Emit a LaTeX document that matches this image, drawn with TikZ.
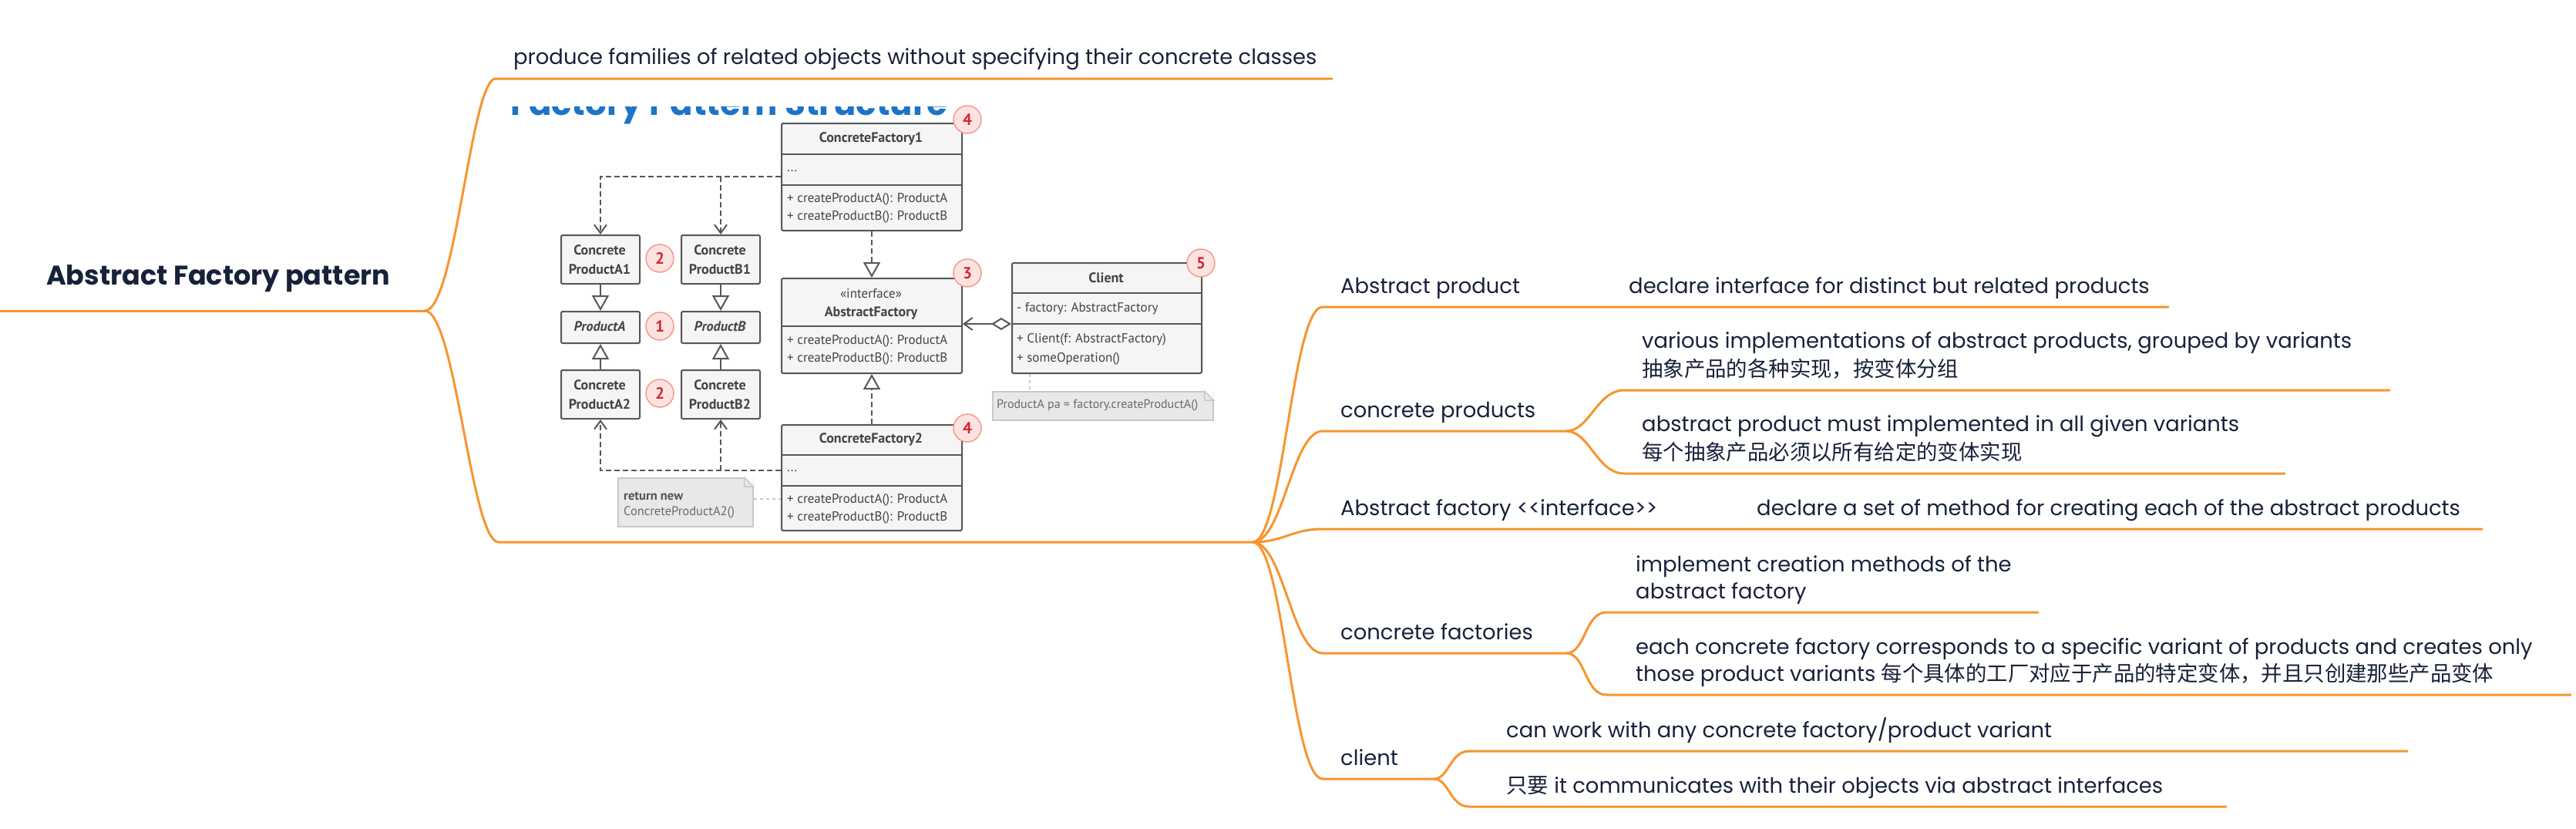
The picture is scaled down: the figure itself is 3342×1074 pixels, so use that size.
\documentclass[tikz,border=0pt]{standalone}
\usepackage{fontspec}
\setmainfont{Poppins}
\newfontfamily\cjk{Noto Sans CJK SC}
\newfontfamily\umlf{PT Sans}
\usetikzlibrary{arrows.meta}
\definecolor{org}{HTML}{F7952F}
\definecolor{ink}{HTML}{18213A}
\definecolor{ugray}{HTML}{575757}
\definecolor{utext}{HTML}{444444}
\definecolor{ufill}{HTML}{F5F5F5}
\definecolor{bfill}{HTML}{FDE3DF}
\definecolor{bdraw}{HTML}{F39A90}
\definecolor{bnum}{HTML}{D0283A}
\definecolor{tblue}{HTML}{1C74C8}
\definecolor{nfill}{HTML}{E8E8E8}
\definecolor{ndraw}{HTML}{C9C9C9}
\definecolor{ntext}{HTML}{6A6A6A}
\begin{document}
\begin{tikzpicture}[x=1pt,y=-1pt,
 branch/.style={draw=org, line width=3pt, line cap=round},
 mtext/.style={anchor=base west, inner sep=0pt, text=ink, font=\fontsize{27.4}{32}\selectfont},
 roottext/.style={anchor=base west, inner sep=0pt, text=ink, font=\bfseries\fontsize{35}{42}\selectfont},
 umlbox/.style={draw=ugray, fill=ufill, line width=2pt, rounded corners=2pt, anchor=north west, inner sep=0pt},
 uname/.style={inner sep=0pt, text=utext, font=\umlf\bfseries\fontsize{18}{21}\selectfont},
 uital/.style={inner sep=0pt, text=utext, font=\umlf\bfseries\itshape\fontsize{18}{21}\selectfont},
 ureg/.style={inner sep=0pt, text=utext, font=\umlf\fontsize{17}{20}\selectfont},
 umeth/.style={anchor=west, inner sep=0pt, text=utext, font=\umlf\fontsize{17}{20}\selectfont},
 badge/.style={circle, draw=bdraw, fill=bfill, line width=1.5pt, minimum size=36pt, inner sep=0pt, text=bnum, font=\umlf\bfseries\fontsize{21}{24}\selectfont},
 dep/.style={draw=ugray, line width=2pt, dash pattern=on 7pt off 4pt},
 gen/.style={draw=ugray, line width=2pt},
 real/.style={-{Triangle[open, length=20pt, width=22pt, fill=white]}},
 openarr/.style={-{Straight Barb[length=11pt, width=16pt]}},
 notebox/.style={draw=ndraw, fill=nfill, line width=1.5pt, anchor=north west, inner sep=0pt},
 notetext/.style={anchor=west, inner sep=0pt, text=ntext, font=\umlf\fontsize{16}{19}\selectfont},
 notelink/.style={draw=ndraw, line width=2pt, dash pattern=on 4pt off 4pt}
]
\useasboundingbox (0,0) rectangle (3342,1074);
\fill[white] (0,0) rectangle (3342,1074);

% ---------------- mind map connectors ----------------
\coordinate (R0) at (0,403);
\coordinate (J0) at (551,403);
\coordinate (T1s) at (643,102);
\coordinate (T1e) at (1728,102);
\coordinate (T2s) at (647,703);
\coordinate (J1) at (1625,703);
\coordinate (A1s) at (1716,398);
\coordinate (A1e) at (2813,398);
\coordinate (A2s) at (1716,559);
\coordinate (J2) at (2032,559);
\coordinate (A2as) at (2107,506);
\coordinate (A2ae) at (3100,506);
\coordinate (A2bs) at (2107,614);
\coordinate (A2be) at (2964,614);
\coordinate (A3s) at (1716,686);
\coordinate (A3e) at (3220,686);
\coordinate (A4s) at (1716,847);
\coordinate (J4) at (2032,847);
\coordinate (A4as) at (2084,794);
\coordinate (A4ae) at (2644,794);
\coordinate (A4bs) at (2084,901);
\coordinate (A4be) at (3335,901);
\coordinate (A5s) at (1716,1010);
\coordinate (J5) at (1860,1010);
\coordinate (A5as) at (1906,974);
\coordinate (A5ae) at (3123,974);
\coordinate (A5bs) at (1906,1046);
\coordinate (A5be) at (2888,1046);

\draw[branch] (R0) -- (J0);
\draw[branch] (J0) .. controls +(40,0) and +(-32,0) .. (T1s) -- (T1e);
\draw[branch] (J0) .. controls +(40,0) and +(-36,0) .. (T2s) -- (J1);
\draw[branch] (J1) .. controls +(40,0) and +(-40,0) .. (A1s) -- (A1e);
\draw[branch] (J1) .. controls +(40,0) and +(-40,0) .. (A2s) -- (J2);
\draw[branch] (J1) .. controls +(40,0) and +(-40,0) .. (A3s) -- (A3e);
\draw[branch] (J1) .. controls +(40,0) and +(-40,0) .. (A4s) -- (J4);
\draw[branch] (J1) .. controls +(40,0) and +(-40,0) .. (A5s) -- (J5);
\draw[branch] (J2) .. controls +(30,0) and +(-35,0) .. (A2as) -- (A2ae);
\draw[branch] (J2) .. controls +(30,0) and +(-35,0) .. (A2bs) -- (A2be);
\draw[branch] (J4) .. controls +(25,0) and +(-28,0) .. (A4as) -- (A4ae);
\draw[branch] (J4) .. controls +(25,0) and +(-28,0) .. (A4bs) -- (A4be);
\draw[branch] (J5) .. controls +(20,0) and +(-25,0) .. (A5as) -- (A5ae);
\draw[branch] (J5) .. controls +(20,0) and +(-25,0) .. (A5bs) -- (A5be);

% ---------------- mind map texts ----------------
\node[roottext] (root) at (60,369) {Abstract Factory pattern};
\node[mtext] (t1) at (666,83) {produce families of related objects without specifying their concrete classes};
\node[mtext] (a1) at (1739,380) {Abstract product};
\node[mtext] (a1a) at (2113,380) {declare interface for distinct but related products};
\node[mtext] (a2) at (1739,541) {concrete products};
\node[mtext] (a2a1) at (2130,451) {various implementations of abstract products, grouped by variants};
\node[mtext] (a2a2) at (2130,488) {\cjk 抽象产品的各种实现，按变体分组};
\node[mtext] (a2b1) at (2130,559) {abstract product must implemented in all given variants};
\node[mtext] (a2b2) at (2130,596) {\cjk 每个抽象产品必须以所有给定的变体实现};
\node[mtext] (a3) at (1739,668) {Abstract factory <\kern0pt<interface>\kern0pt>};
\node[mtext] (a3a) at (2279,668) {declare a set of method for creating each of the abstract products};
\node[mtext] (a4) at (1739,829) {concrete factories};
\node[mtext] (a4a1) at (2122,741) {implement creation methods of the};
\node[mtext] (a4a2) at (2122,776) {abstract factory};
\node[mtext] (a4b1) at (2122,848) {each concrete factory corresponds to a specific variant of products and creates only};
\node[mtext] (a4b2) at (2122,883) {those product variants {\cjk 每个具体的工厂对应于产品的特定变体，并且只创建那些产品变体}};
\node[mtext] (a5) at (1739,992) {client};
\node[mtext] (a5a) at (1954,956) {can work with any concrete factory/product variant};
\node[mtext] (a5b) at (1954,1028) {{\cjk 只要} it communicates with their objects via abstract interfaces};

% ---------------- UML picture ----------------
\begin{scope}
\clip (660,138) rectangle (1250,170);
\node[anchor=base west, inner sep=0pt, text=tblue, font=\bfseries\fontsize{43.5}{50}\selectfont] (ttl) at (662,149) {Factory Pattern Structure};
\end{scope}

% boxes
\node[umlbox, minimum width=234pt, minimum height=139pt] (cf1) at (1013,159) {};
\draw[ugray, line width=2pt] (1013,199.5) -- (1247,199.5) (1013,240) -- (1247,240);
\node[uname] (cf1n) at (1130,180) {ConcreteFactory1};
\node[umeth] (cf1d) at (1021,222) {...};
\node[umeth] (cf1m1) at (1021,258) {+ createProductA(): ProductA};
\node[umeth] (cf1m2) at (1021,281) {+ createProductB(): ProductB};

\node[umlbox, minimum width=234pt, minimum height=123pt] (af) at (1013,360) {};
\draw[ugray, line width=2pt] (1013,423) -- (1247,423);
\node[ureg] (afs) at (1130,381) {«interface»};
\node[uname] (afn) at (1130,406) {AbstractFactory};
\node[umeth] (afm1) at (1021,442) {+ createProductA(): ProductA};
\node[umeth] (afm2) at (1021,465) {+ createProductB(): ProductB};

\node[umlbox, minimum width=234pt, minimum height=137pt] (cf2) at (1013,550) {};
\draw[ugray, line width=2pt] (1013,590) -- (1247,590) (1013,630) -- (1247,630);
\node[uname] (cf2n) at (1130,570) {ConcreteFactory2};
\node[umeth] (cf2d) at (1021,611) {...};
\node[umeth] (cf2m1) at (1021,648) {+ createProductA(): ProductA};
\node[umeth] (cf2m2) at (1021,671) {+ createProductB(): ProductB};

\node[umlbox, minimum width=246pt, minimum height=143pt] (cl) at (1312,340) {};
\draw[ugray, line width=2pt] (1312,380) -- (1558,380) (1312,420) -- (1558,420);
\node[uname] (cln) at (1435,360) {Client};
\node[umeth] (cla) at (1319,400) {- factory: AbstractFactory};
\node[umeth] (clm1) at (1319,440) {+ Client(f: AbstractFactory)};
\node[umeth] (clm2) at (1319,465) {+ someOperation()};

\node[umlbox, minimum width=102pt, minimum height=63pt] (pa1) at (727,304) {};
\node[uname] (pa1t1) at (778,324) {Concrete};
\node[uname] (pa1t2) at (778,349) {ProductA1};
\node[umlbox, minimum width=102pt, minimum height=63pt] (pb1) at (883,304) {};
\node[uname] (pb1t1) at (934,324) {Concrete};
\node[uname] (pb1t2) at (934,349) {ProductB1};
\node[umlbox, minimum width=102pt, minimum height=41pt] (pa) at (727,403) {};
\node[uital] (pat) at (778,423.5) {ProductA};
\node[umlbox, minimum width=102pt, minimum height=41pt] (pb) at (883,403) {};
\node[uital] (pbt) at (934,423.5) {ProductB};
\node[umlbox, minimum width=102pt, minimum height=63pt] (pa2) at (727,479) {};
\node[uname] (pa2t1) at (778,499) {Concrete};
\node[uname] (pa2t2) at (778,524) {ProductA2};
\node[umlbox, minimum width=102pt, minimum height=63pt] (pb2) at (883,479) {};
\node[uname] (pb2t1) at (934,499) {Concrete};
\node[uname] (pb2t2) at (934,524) {ProductB2};

% notes
\node[notebox, minimum width=286pt, minimum height=37pt] (n1) at (1287,507) {};
\node[notetext] (n1t) at (1293,526) {ProductA pa = factory.createProductA()};
\fill[white] (n1.north east) -- ++(-12,0) -- ++(12,12) -- cycle;
\draw[ndraw, line width=1.5pt] ([xshift=-12pt]n1.north east) -- ++(0,12) -- ++(12,0) -- cycle;
\node[notebox, minimum width=175pt, minimum height=63pt] (n2) at (801,619) {};
\node[notetext, font=\umlf\bfseries\fontsize{16.5}{20}\selectfont, text=ntext!80!black] (n2t1) at (809,643) {return new};
\node[notetext, font=\umlf\fontsize{16.5}{20}\selectfont] (n2t2) at (809,664) {ConcreteProductA2()};
\fill[white] (n2.north east) -- ++(-12,0) -- ++(12,12) -- cycle;
\draw[ndraw, line width=1.5pt] ([xshift=-12pt]n2.north east) -- ++(0,12) -- ++(12,0) -- cycle;

% connectors
\draw[dep, openarr] (cf1.west |- 0,229) -| (pa1.north);
\draw[dep, openarr] (pb1.north |- 0,229) -- (pb1.north);
\draw[dep, openarr] (cf2.west |- 0,610) -| (pa2.south);
\draw[dep, openarr] (pb2.south |- 0,610) -- (pb2.south);
\draw[dep, real] (cf1.south) -- (af.north);
\draw[dep, real] (cf2.north) -- (af.south);
\draw[gen, real] (pa1.south) -- (pa.north);
\draw[gen, real] (pb1.south) -- (pb.north);
\draw[gen, real] (pa2.north) -- (pa.south);
\draw[gen, real] (pb2.north) -- (pb.south);
\draw[gen, {Diamond[open, length=26pt, width=16pt, fill=white]}-{Straight Barb[length=11pt, width=16pt]}] (cl.west |- 0,420) -- (af.east |- 0,420);
\draw[notelink] (cl.south -| 1336,0) -- (n1.north -| 1336,0);
\draw[notelink] (n2.east |- 0,647) -- (cf2.west |- 0,647);

% badges
\node[badge] (b4a) at (1255,155) {4};
\node[badge] (b3) at (1255,354) {3};
\node[badge] (b4b) at (1255,555) {4};
\node[badge] (b5) at (1558,341) {5};
\node[badge] (b2a) at (856,335) {2};
\node[badge] (b1) at (856,423) {1};
\node[badge] (b2b) at (856,510) {2};
\end{tikzpicture}
\end{document}
